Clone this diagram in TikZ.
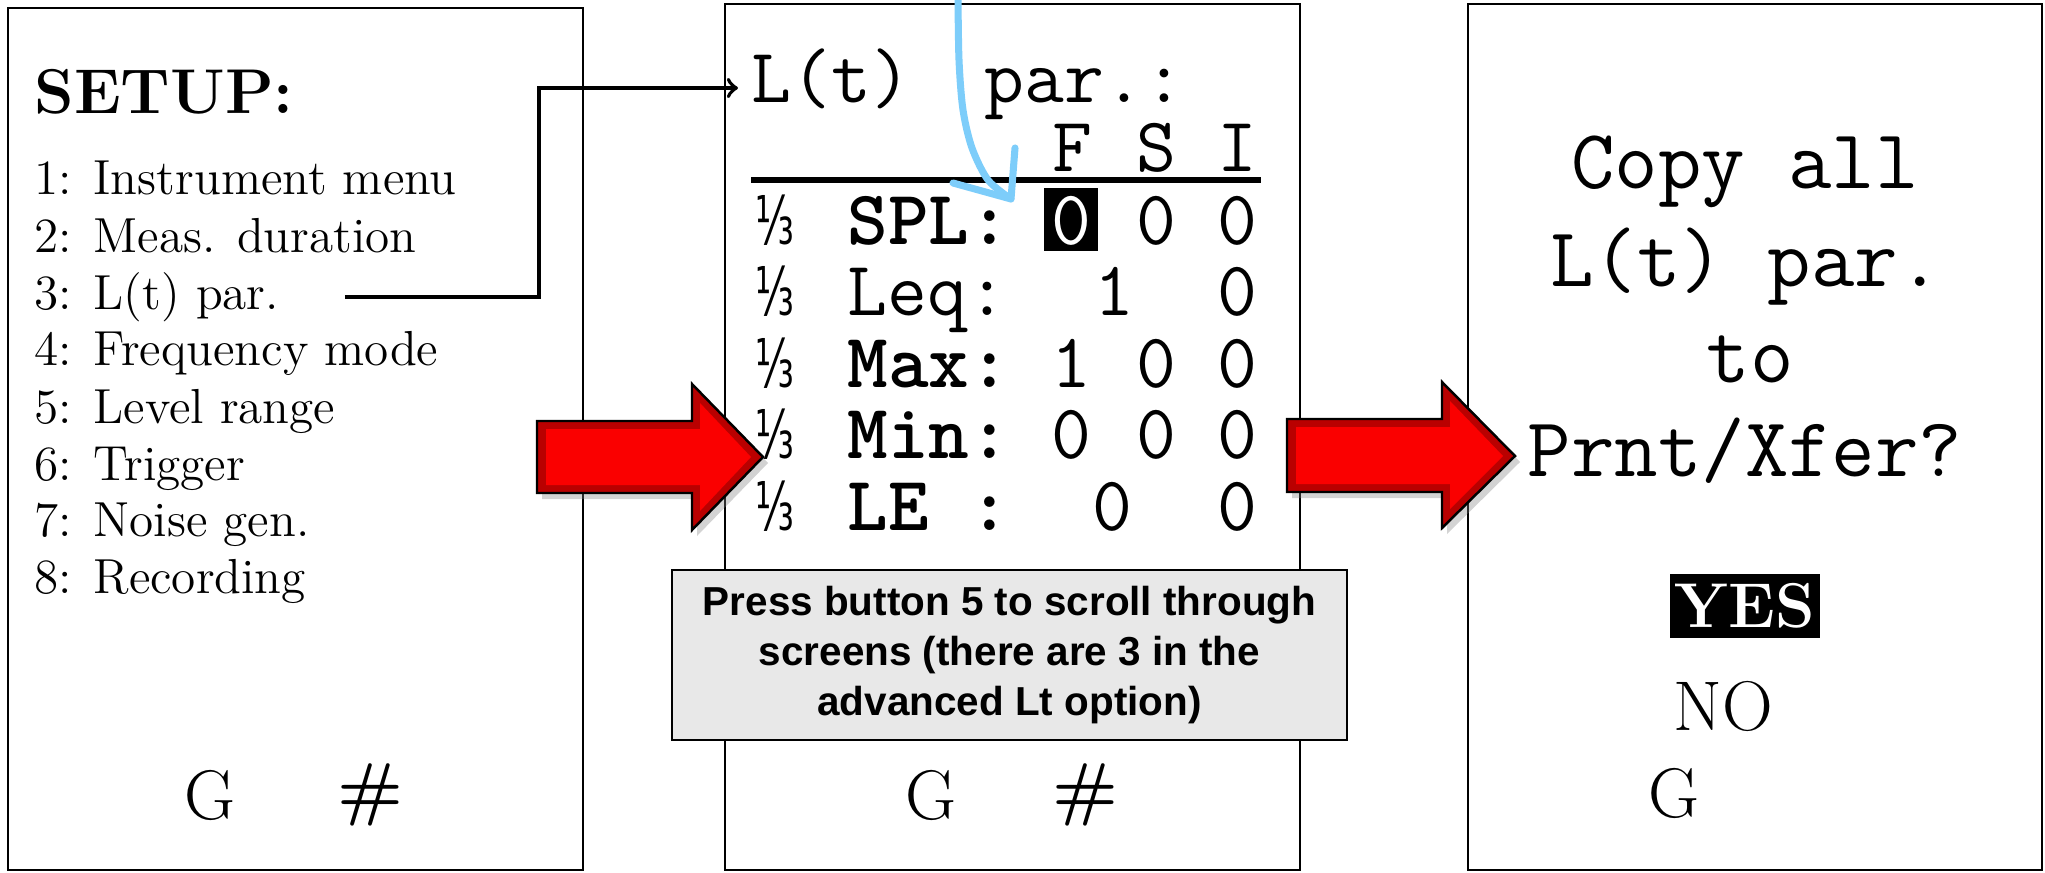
\documentclass[tikz,border=0pt]{standalone}
\usepackage{fontspec}
\usepackage{graphicx}
\setsansfont{Liberation Sans}
\newfontfamily\fracfont{DejaVu Sans}
\usetikzlibrary{shadows}

\definecolor{penblue}{RGB}{125,205,250}
\definecolor{notegray}{RGB}{232,232,232}
\definecolor{arrowred}{RGB}{250,0,0}
\definecolor{arrowdark}{RGB}{185,0,0}

\tikzset{
  screen/.style={draw=black,line width=0.7pt,fill=white},
  menu/.style={anchor=base west,inner sep=0pt,font=\fontsize{14}{14}\selectfont},
  lcd/.style={anchor=base,inner sep=0pt,font=\ttfamily\fontsize{22}{22}\selectfont},
  lcdbold/.style={lcd,anchor=base west,font=\ttfamily\bfseries\fontsize{22}{22}\selectfont},
  lcdbig/.style={anchor=base,inner sep=0pt,font=\ttfamily\fontsize{24}{24}\selectfont},
  key/.style={anchor=base,inner sep=0pt,font=\fontsize{20}{20}\selectfont},
  third/.style={anchor=base,inner sep=0pt,font=\fracfont\fontsize{19}{19}\selectfont},
  link/.style={draw=black,line width=1.1pt,->},
  pen/.style={draw=penblue,line width=2pt,line cap=round,line join=round},
  note/.style={draw=black,line width=0.6pt,fill=notegray,align=center,
    minimum width=6.75cm,minimum height=1.7cm,
    font=\sffamily\bfseries\fontsize{11.5}{14.2}\selectfont},
  bigarrow/.style={draw=black,line width=0.7pt,fill=arrowdark,
    drop shadow={shadow xshift=0.05cm,shadow yshift=-0.06cm,opacity=0.35}}
}

\begin{document}
\begin{tikzpicture}[x=0.01cm,y=-0.01cm]
\useasboundingbox (0,0) rectangle (2045,873);
% screens
\draw[screen] (8,8) rectangle (583,870);
\draw[screen] (725,4) rectangle (1300,870);
\draw[screen] (1468,4) rectangle (2042,870);

% setup menu
\node[anchor=base west,inner sep=0pt,font=\bfseries\fontsize{18}{18}\selectfont] (setup) at (34,114) {SETUP:};
\node[menu] (item1) at (34,195) {1: Instrument menu};
\node[menu] (item2) at (34,252) {2: Meas. duration};
\node[menu] (item3) at (34,309) {3: L(t) par.};
\node[menu] (item4) at (34,366) {4: Frequency mode};
\node[menu] (item5) at (34,423) {5: Level range};
\node[menu] (item6) at (34,480) {6: Trigger};
\node[menu] (item7) at (34,536) {7: Noise gen.};
\node[menu] (item8) at (34,593) {8: Recording};
\node[key] (g1) at (210,819) {G};
\node[key,font=\bfseries\fontsize{20}{20}\selectfont] (hash1) at (370,812) {\#};

% L(t) parameters
\node[lcd,anchor=base west] (title) at (751,103) {L(t)\hspace{21pt}par.:};
\node[lcd] (hF) at (1072,172) {F};
\node[lcd] (hS) at (1156,172) {S};
\node[lcd] (hI) at (1237,172) {I};
\draw[line width=1.7pt] (751,180) -- (1261,180);
\foreach \yy [count=\r] in {245,316,387,458,530}
  \node[third] (third\r) at (775,\yy) {\scalebox{0.6}[1]{⅓}};
\node[lcdbold] (row1) at (847,245) {SPL:};
\node[lcd,anchor=base west] (row2) at (847,316) {Leq:};
\node[lcdbold] (row3) at (847,387) {Max:};
\node[lcdbold] (row4) at (847,458) {Min:};
\node[lcdbold] (row5) at (847,530) {LE :};
\fill[black] (1044,188) rectangle (1098,251);
\node[lcd,text=white] (v11) at (1071,245) {0};
\node[lcd] (v12) at (1156,245) {0};
\node[lcd] (v13) at (1237,245) {0};
\node[lcd] (v22) at (1114,316) {1};
\node[lcd] (v23) at (1237,316) {0};
\node[lcd] (v31) at (1071,387) {1};
\node[lcd] (v32) at (1156,387) {0};
\node[lcd] (v33) at (1237,387) {0};
\node[lcd] (v41) at (1071,458) {0};
\node[lcd] (v42) at (1156,458) {0};
\node[lcd] (v43) at (1237,458) {0};
\node[lcd] (v52) at (1112,530) {0};
\node[lcd] (v53) at (1237,530) {0};
\node[key] (g2) at (931,819) {G};
\node[key,font=\bfseries\fontsize{20}{20}\selectfont] (hash2) at (1085,812) {\#};

% copy screen
\node[lcdbig] (copy) at (1745,189) {Copy all};
\node[lcdbig] (ltpar) at (1746,287) {L(t) par.};
\node[lcdbig] (to) at (1750,382) {to};
\node[lcdbig] (prnt) at (1745,476) {Prnt/Xfer?};
\node[fill=black,text=white,inner sep=0pt,minimum width=1.5cm,minimum height=0.64cm,
  font=\bfseries\fontsize{18}{18}\selectfont] (yes) at (1745,606) {YES};
\node[key] (no) at (1723,730) {NO};
\node[key] (g3) at (1674,817) {G};

% menu item to parameter screen
\coordinate (elbow) at (539,88);
\draw[link,shorten >=0.13cm] ([xshift=0.65cm]item3.east) -| (elbow) -- (title.west |- elbow);

% hand drawn pointer
\draw[pen] plot[smooth] coordinates {(958,-5) (959,60) (963,110) (972,148) (988,180) (1011,199)};
\draw[pen] (953,183) -- (1011,199) -- (1015,148);

\node[note] (hint) at (1009.5,655) {Press button 5 to scroll through\\screens (there are 3 in the\\advanced Lt option)};

% red arrows
\begin{scope}[shift={(537,457)}]
\draw[bigarrow] (0,-36) -- (155,-36) -- (155,-73) -- (226,0) -- (155,73) -- (155,36) -- (0,36) -- cycle;
\fill[arrowred] (9,-28) -- (163,-28) -- (163,-54) -- (214,0) -- (163,54) -- (163,28) -- (9,28) -- cycle;
\end{scope}
\begin{scope}[shift={(1287,456)}]
\draw[bigarrow] (0,-37) -- (155,-37) -- (155,-74) -- (228,0) -- (155,72) -- (155,36) -- (0,36) -- cycle;
\fill[arrowred] (9,-29) -- (163,-29) -- (163,-55) -- (216,0) -- (163,53) -- (163,28) -- (9,28) -- cycle;
\end{scope}
\end{tikzpicture}
\end{document}
